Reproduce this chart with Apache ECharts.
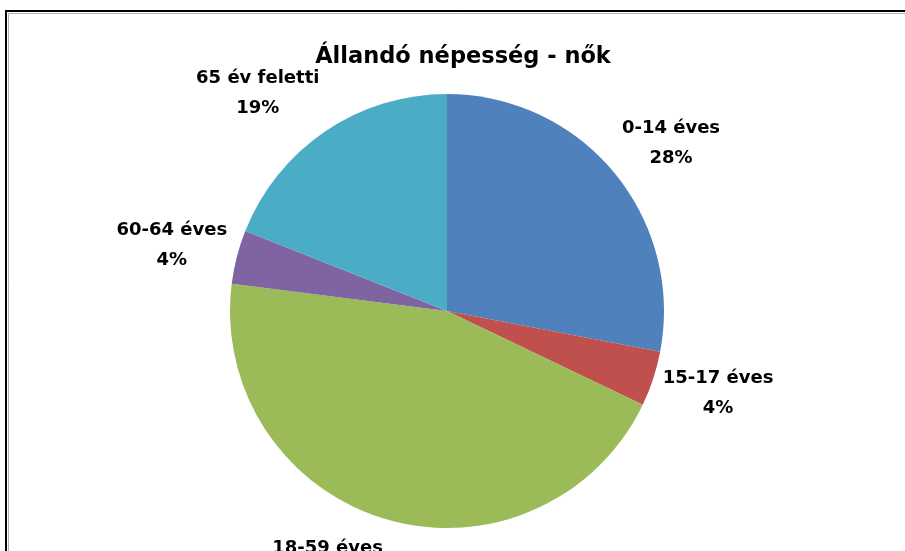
<!DOCTYPE html>
<html>
<head>
<meta charset="utf-8">
<script src="https://cdn.jsdelivr.net/npm/echarts@6/dist/echarts.min.js"></script>
<style>
html, body { margin: 0; padding: 0; background: #fff; }
#chart { width: 905px; height: 551px; }
</style>
</head>
<body>
<div id="chart"></div>
<script>
// korcsoportok es aranyuk (%)
const categories = ['0-14 éves', '15-17 éves', '18-59 éves', '60-64 éves', '65 év feletti']
const values = [28.0, 4.1, 44.9, 4.0, 19.0]
const colors = ['#4F81BD', '#C0504D', '#9BBB59', '#8064A2', '#4BACC6']

const cx = 447
const cy = 311
const gap = 10 // cimke es a perem kozti res

const myChart = echarts.init(document.getElementById('chart'))

myChart.setOption({
    animation: false,
    color: colors,
    title: {
        text: 'Állandó népesség - nők',
        left: 458,
        top: 41,
        textAlign: 'center',
        textStyle: {
            fontFamily: 'DejaVu Sans',
            fontWeight: 'bold',
            fontSize: 22.5,
            color: '#000'
        }
    },
    graphic: [{
        type: 'rect',
        shape: { x: 6, y: 11, width: 1000, height: 1000 },
        style: { fill: null, stroke: '#000', lineWidth: 2 },
        z: 100
    }, {
        type: 'rect',
        shape: { x: 8.5, y: 13.5, width: 1000, height: 1000 },
        style: { fill: null, stroke: '#b0b0b0', lineWidth: 1 },
        z: 100
    }],
    series: [{
        type: 'pie',
        center: [cx, cy],
        radius: 217,
        startAngle: 90,
        clockwise: true,
        avoidLabelOverlap: false,
        percentPrecision: 0,
        data: categories.map((name, i) => ({ name: name, value: values[i] })),
        itemStyle: { borderWidth: 0 },
        label: {
            show: true,
            position: 'outside',
            formatter: '{b}\n{d}%',
            fontFamily: 'DejaVu Sans',
            fontWeight: 'bold',
            fontSize: 18,
            lineHeight: 30,
            color: '#000'
        },
        labelLine: {
            show: true,
            length: 20,
            length2: 0,
            lineStyle: { opacity: 0 }
        },
        labelLayout: function (p) {
            const pts = p.labelLinePoints
            if (!pts) return {}
            // a szelet kozepvonalan, a perem mogott
            const ex = pts[0][0] - cx
            const ey = pts[0][1] - cy
            const len = Math.sqrt(ex * ex + ey * ey)
            const ux = ex / len
            const uy = ey / len
            const ax = pts[0][0] + ux * gap
            const ay = pts[0][1] + uy * gap
            const w = p.labelRect.width
            const h = p.labelRect.height - 12
            return {
                x: ax + Math.sign(ux) * w / 2,
                y: ay + uy * h * 0.75,
                align: 'center',
                verticalAlign: 'middle'
            }
        }
    }]
})
</script>
</body>
</html>
